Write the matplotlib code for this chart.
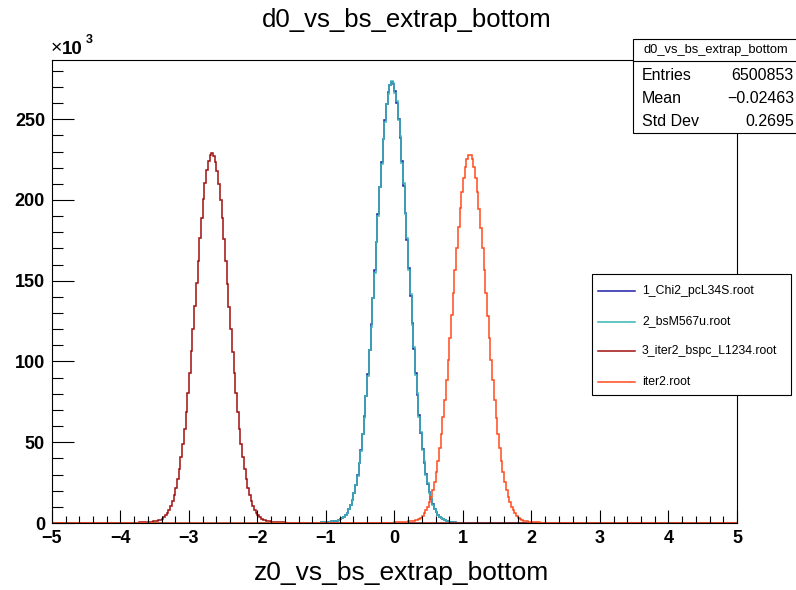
import numpy as np
import matplotlib
matplotlib.use("Agg")
import matplotlib.pyplot as plt
from matplotlib.patches import Rectangle
from matplotlib.lines import Line2D

plt.rcParams['font.family'] = ['Liberation Sans', 'DejaVu Sans']

# ---------------- data (bin contents in thousands, bin width 0.025 on [-5, 5]) -------------
bin_lo, bin_hi, n_bins = -5.0, 5.0, 400

series_names = ["1_Chi2_pcL34S.root", "2_bsM567u.root", "3_iter2_bspc_L1234.root", "iter2.root"]

chi2_start = -1.15
chi2_vals = [0.2, 0.25, 0.3, 0.35, 0.4, 0.5, 0.6, 0.7, 0.8, 0.95, 1.1, 1.3, 1.5, 1.8,
             2.2, 2.8, 3.7, 4.9, 6.5, 8.6, 11.2, 14.5, 18.6, 23.6, 29.8, 37.0, 45.5, 55.2, 66.3,
             78.6, 92.3, 107.0, 123.0, 139.6, 156.8, 174.2, 191.3, 208.0, 223.5, 237.6, 249.6,
             259.5, 266.8, 271.2, 273.0, 271.8, 267.3, 260.0, 250.3, 238.2, 224.3, 208.8, 192.2,
             175.0, 157.6, 140.4, 123.7, 107.8, 92.9, 79.2, 66.8, 55.6, 45.9, 37.4, 30.2, 24.1,
             19.0, 14.9, 11.5, 8.8, 6.7, 5.0, 3.8, 2.9, 2.2, 1.7, 1.3, 1.0, 0.8, 0.6, 0.5, 0.4,
             0.3, 0.25, 0.2]

bsm_start = -1.15
bsm_vals = [0.2, 0.25, 0.3, 0.35, 0.4, 0.5, 0.6, 0.7, 0.8, 0.95, 1.1, 1.3, 1.5, 1.8,
            2.2, 2.8, 3.6, 4.9, 6.4, 8.6, 11.0, 14.5, 18.3, 23.6, 29.3, 37.0, 44.6, 55.2, 65.0,
            78.6, 90.8, 107.0, 121.4, 139.6, 155.0, 174.2, 189.9, 208.0, 222.0, 237.6, 248.3,
            259.5, 265.8, 271.2, 273.4, 272.6, 266.5, 261.3, 249.2, 239.5, 223.1, 210.2, 191.0,
            176.4, 156.4, 141.8, 122.5, 109.0, 91.8, 80.3, 65.8, 56.6, 45.0, 38.2, 29.6, 24.6,
            18.6, 15.2, 11.3, 8.9, 6.6, 5.1, 3.7, 2.9, 2.2, 1.7, 1.3, 1.0, 0.8, 0.6, 0.5, 0.4,
            0.3, 0.25, 0.2]

iter2bspc_start = -3.95
iter2bspc_vals = [0.1, 0.12, 0.14, 0.16, 0.18, 0.2, 0.23, 0.26, 0.3, 0.35, 0.4, 0.45, 0.52, 0.6,
                  0.7, 0.8, 0.92, 1.05, 1.2, 1.4, 1.6,
                  1.9, 2.6, 3.5, 4.7, 6.2, 8.2, 10.6, 13.6, 17.3, 21.8, 27.1, 33.4, 40.6, 49.0,
                  58.4, 68.9, 80.5, 92.9, 106.2, 120.1, 134.3, 148.3, 162.5, 176.2, 188.9, 200.4,
                  210.3, 218.3, 224.2, 227.8, 229.0, 227.5, 223.8, 218.0, 210.0, 200.1, 188.6,
                  176.0, 162.2, 148.0, 134.0, 119.8, 106.0, 92.7, 80.3, 68.8, 58.3, 48.9, 40.6,
                  33.4, 27.2, 21.9, 17.4, 13.7, 10.7, 8.3, 6.3, 4.8, 3.6, 2.7, 2.0,
                  1.7, 1.45, 1.25, 1.05, 0.9, 0.78, 0.67, 0.58, 0.5, 0.43, 0.37, 0.32, 0.28, 0.24,
                  0.21, 0.18, 0.16, 0.14, 0.12, 0.11, 0.1, 0.09, 0.08, 0.07, 0.06]

iter2_start = -0.3
iter2_vals = [0.08, 0.09, 0.1, 0.11, 0.12, 0.14, 0.16, 0.18, 0.2, 0.23, 0.26, 0.3, 0.34, 0.38,
              0.43, 0.5, 0.56, 0.64, 0.72, 0.82, 0.93, 1.05, 1.2, 1.35, 1.55,
              1.8, 2.5, 3.3, 4.5, 5.9, 7.8, 10.1, 12.9, 16.4, 20.6, 25.6, 31.6, 38.5, 46.4, 55.3,
              65.4, 76.4, 88.4, 101.2, 114.6, 128.5, 142.6, 156.6, 170.2, 183.0, 194.8, 205.2,
              213.9, 220.7, 225.4, 227.7,
              228.0, 225.1, 220.5, 213.6, 205.0, 194.5, 182.8, 170.0, 156.4, 142.3, 128.3, 114.4,
              101.0, 88.3, 76.3, 65.3, 55.3, 46.4, 38.5, 31.6, 25.6, 20.6, 16.4, 12.9, 10.1, 7.8,
              5.9, 4.5, 3.3, 2.5, 1.8,
              1.5, 1.25, 1.05, 0.88, 0.74, 0.62, 0.52, 0.44, 0.37, 0.31, 0.26, 0.22, 0.18, 0.15]

series_starts = [chi2_start, bsm_start, iter2bspc_start, iter2_start]
series_vals = [chi2_vals, bsm_vals, iter2bspc_vals, iter2_vals]
series_colors = ['#1f1fa8', '#38b4b4', '#a01010', '#ff4a1c']

x_ticks = [-5, -4, -3, -2, -1, 0, 1, 2, 3, 4, 5]
y_ticks = [0, 50, 100, 150, 200, 250]

stats_title = "d0_vs_bs_extrap_bottom"
stats_rows = [("Entries", "6500853"), ("Mean", "\u22120.02463"), ("Std Dev", "0.2695")]

title = "d0_vs_bs_extrap_bottom"
xlabel = "z0_vs_bs_extrap_bottom"

# ---------------- figure ---------------------------------------------------------------
W, H = 796, 590
fig = plt.figure(figsize=(W / 100, H / 100), dpi=100)
fig.patch.set_facecolor('white')

def fx(px):
    return px / W

def fy(py):
    return 1 - py / H

ax = fig.add_axes([fx(52), fy(523), fx(737) - fx(52), fy(60) - fy(523)])

edges = np.linspace(bin_lo, bin_hi, n_bins + 1)
bw = (bin_hi - bin_lo) / n_bins
for start, vals, col in zip(series_starts, series_vals, series_colors):
    counts = np.zeros(n_bins)
    i0 = int(round((start - bin_lo) / bw))
    counts[i0:i0 + len(vals)] = vals
    ax.stairs(counts, edges, color=col, lw=1.1, baseline=0)

ymax = 1.05 * 273.0
ax.set_xlim(bin_lo, bin_hi)
ax.set_ylim(0, ymax)

ax.set_xticks(x_ticks)
ax.set_xticks(np.arange(-5, 5.001, 0.2), minor=True)
ax.set_yticks(y_ticks)
ax.set_yticks(np.arange(0, ymax, 10), minor=True)
ax.set_xticklabels([str(t).replace('-', '\u2212') for t in x_ticks])
ax.set_yticklabels([str(t) for t in y_ticks])

ax.tick_params(axis='x', which='major', direction='in', length=9.5, width=0.8, pad=5, labelsize=13)
ax.tick_params(axis='x', which='minor', direction='in', length=5, width=0.8)
ax.tick_params(axis='y', which='major', direction='in', length=15.5, width=0.8, pad=5, labelsize=13)
ax.tick_params(axis='y', which='minor', direction='in', length=8, width=0.8)
for lbl in ax.get_xticklabels() + ax.get_yticklabels():
    lbl.set_fontweight('bold')
for sp in ax.spines.values():
    sp.set_linewidth(0.8)

# exponent label
fig.text(fx(51), fy(49), "\u00d7", fontsize=14, ha='left', va='center')
fig.text(fx(62), fy(49), "10", fontsize=13.5, fontweight='bold', ha='left', va='center')
fig.text(fx(86), fy(40), "3", fontsize=9, fontweight='bold', ha='left', va='center')

# title & axis title
fig.text(fx(407), fy(20), title, fontsize=18.5, ha='center', va='center')
fig.text(fx(401), fy(573), xlabel, fontsize=19, ha='center', va='center')

# ---------------- stats box -----------------------------------------------------------
fig.add_artist(Rectangle((fx(633), fy(133)), fx(800) - fx(633), fy(39) - fy(133),
                         transform=fig.transFigure, facecolor='white', edgecolor='black',
                         lw=0.8, zorder=10))
fig.add_artist(Line2D([fx(633), fx(800)], [fy(61), fy(61)], transform=fig.transFigure,
                      color='black', lw=0.8, zorder=11))
fig.text(fx(716), fy(50), stats_title, fontsize=9.3, ha='center', va='center', zorder=12)
for (name, val), yy in zip(stats_rows, [75, 98.5, 122]):
    fig.text(fx(642), fy(yy), name, fontsize=11.5, ha='left', va='center', zorder=12)
    fig.text(fx(794), fy(yy), val, fontsize=11.5, ha='right', va='center', zorder=12)

# ---------------- legend --------------------------------------------------------------
fig.add_artist(Rectangle((fx(592), fy(395)), fx(791) - fx(592), fy(274) - fy(395),
                         transform=fig.transFigure, facecolor='white', edgecolor='black',
                         lw=0.8, zorder=10))
for name, col, yy in zip(series_names, series_colors, [290.7, 321.5, 351, 382]):
    fig.add_artist(Line2D([fx(598), fx(635)], [fy(yy), fy(yy)], transform=fig.transFigure,
                          color=col, lw=1.1, zorder=11))
    fig.text(fx(642), fy(yy), name, fontsize=8.8, ha='left', va='center', zorder=12)

fig.savefig("out.png", dpi=100)
